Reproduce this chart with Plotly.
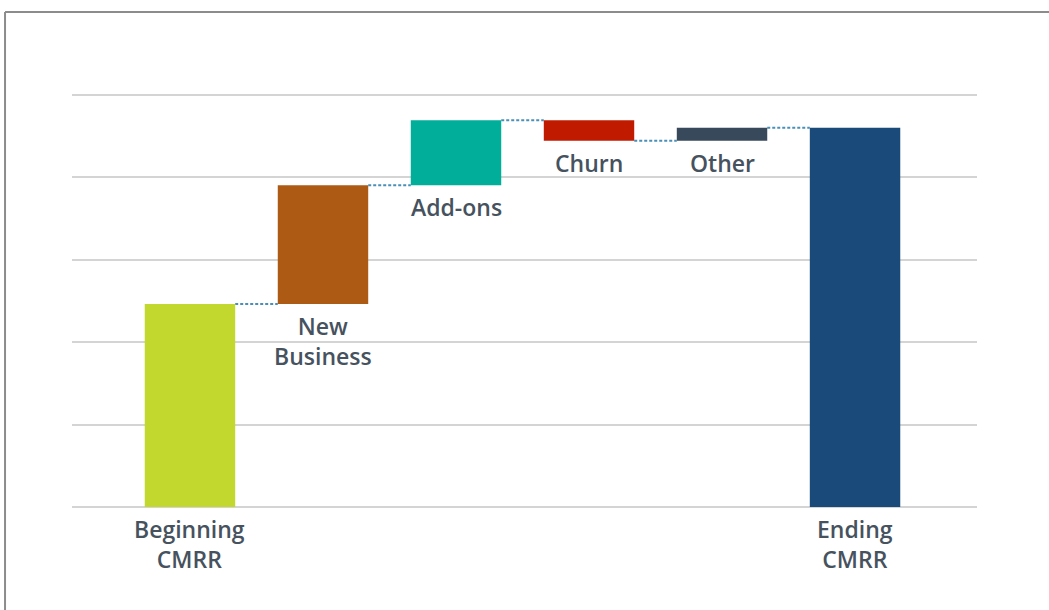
import plotly.graph_objects as go

categories = ["Beginning CMRR", "New Business", "Add-ons", "Churn", "Other", "Ending CMRR"]
label_texts = ["Beginning<br>CMRR", "New<br>Business", "Add-ons", "Churn", "Other", "Ending<br>CMRR"]
values = [246, 144, 79, -25, 16, 0]
measures = ["absolute", "relative", "relative", "relative", "relative", "total"]
bar_colors = ["#c2d82e", "#ad5b14", "#00ae9a", "#c01b00", "#37495a", "#1a4a7a"]

# compute bar bottoms for label placement
bottoms = []
running = 0
for v, m in zip(values, measures):
    if m == "absolute":
        start, end = 0, v
        running = v
    elif m == "total":
        start, end = 0, running
    else:
        start, end = running, running + v
        running = end
    bottoms.append(min(start, end))

fig = go.Figure()

fig.add_trace(go.Waterfall(
    x=categories,
    y=values,
    measure=measures,
    width=0.68,
    connector=dict(mode="between", line=dict(color="#4a8fb8", width=2, dash="3px,2px")),
    increasing=dict(marker=dict(color="rgba(0,0,0,0)")),
    decreasing=dict(marker=dict(color="rgba(0,0,0,0)")),
    totals=dict(marker=dict(color="rgba(0,0,0,0)")),
    showlegend=False,
    hoverinfo="skip",
))

running = 0
for c, v, m, col in zip(categories, values, measures, bar_colors):
    if m == "absolute":
        base, h = 0, v
        running = v
    elif m == "total":
        base, h = 0, running
    else:
        base, h = running, v
        running += v
    fig.add_trace(go.Bar(x=[c], y=[h], base=[base], width=0.68,
                         marker=dict(color=col, line=dict(width=0)),
                         showlegend=False, hoverinfo="skip"))

for c, t, b in zip(categories, label_texts, bottoms):
    fig.add_annotation(x=c, y=b, text=t, showarrow=False, yanchor="top",
                       yshift=-4, xanchor="center",
                       font=dict(family="Open Sans", size=23, color="#46525e", weight=600),
                       align="center")

fig.add_shape(type="line", xref="paper", yref="paper", x0=-0.074, x1=1.1, y0=1.1957, y1=1.1957,
              line=dict(color="#8c8c8c", width=2))
fig.add_shape(type="line", xref="paper", yref="paper", x0=-0.074, x1=-0.074, y0=1.1957, y1=-0.3,
              line=dict(color="#8c8c8c", width=2))

fig.update_layout(
    width=1049, height=610,
    margin=dict(l=72, r=72, t=93, b=103),
    paper_bgcolor="white", plot_bgcolor="white",
    barmode="overlay",
    xaxis=dict(range=[-0.887, 5.917], showticklabels=False, showgrid=False, zeroline=False,
               showline=False, ticks=""),
    yaxis=dict(range=[0, 502], dtick=100, showticklabels=False, showgrid=True,
               gridcolor="#d4d4d4", gridwidth=1.5, zeroline=True, zerolinecolor="#d4d4d4",
               zerolinewidth=1.5, showline=False, ticks=""),
)

fig.write_html("out.html")
